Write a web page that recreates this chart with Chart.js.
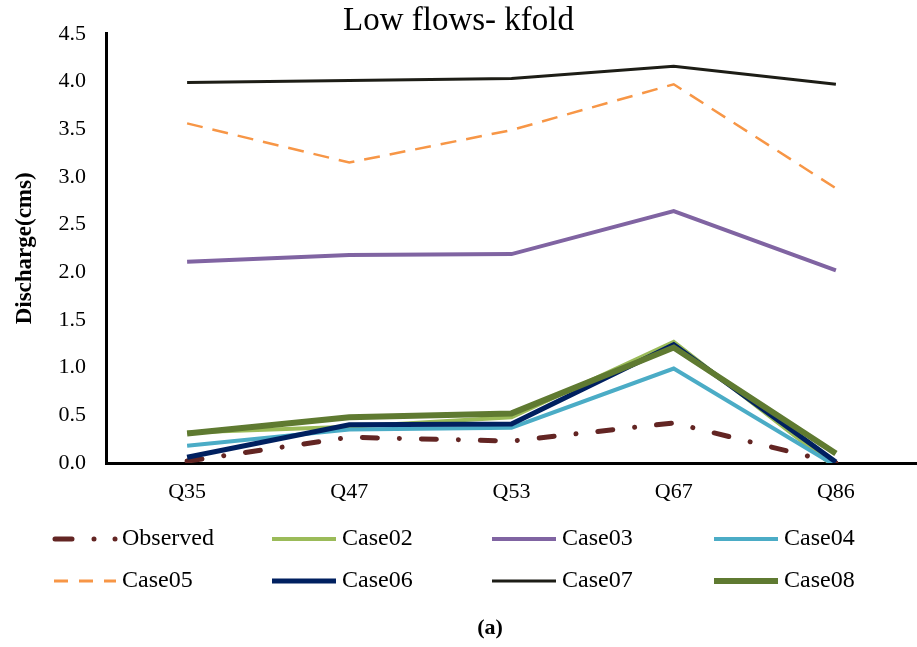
<!DOCTYPE html>
<html>
<head>
<meta charset="utf-8">
<script src="https://cdn.jsdelivr.net/npm/chart.js@4"></script>
<style>
    body { margin: 0; background: #fff; }
    #wrap { width: 917px; height: 647px; }
</style>
</head>
<body>
<div id="wrap"><canvas id="myChart" width="917" height="647"></canvas></div>
<script>
// Data
const categories = ['Q35', 'Q47', 'Q53', 'Q67', 'Q86'];
const observed = [0.02, 0.27, 0.23, 0.42, 0.00];
const case02 = [0.32, 0.38, 0.48, 1.27, -0.05];
const case03 = [2.11, 2.18, 2.19, 2.64, 2.02];
const case04 = [0.18, 0.35, 0.37, 0.99, -0.03];
const case05 = [3.56, 3.15, 3.49, 3.97, 2.88];
const case06 = [0.06, 0.40, 0.41, 1.24, 0.01];
const case07 = [3.99, 4.01, 4.03, 4.16, 3.97];
const case08 = [0.31, 0.48, 0.52, 1.21, 0.10];

const FONT = "'Liberation Serif', 'Times New Roman', serif";

// Build a line dataset
function makeSeries(label, data, color, width, dash, idx) {
    return {
        label: label,
        data: data,
        borderColor: color,
        backgroundColor: color,
        borderWidth: width,
        borderDash: dash || [],
        borderCapStyle: dash && dash.length === 4 ? 'round' : 'butt',
        pointRadius: 0,
        tension: 0,
        fill: false,
        clip: 0,
        order: 8 - idx
    };
}

const datasets = [
    makeSeries('Observed', observed, '#632523', 5, [15, 22, 0.01, 22], 0),
    makeSeries('Case02', case02, '#9BBB59', 4, null, 1),
    makeSeries('Case03', case03, '#8064A2', 4, null, 2),
    makeSeries('Case04', case04, '#4BACC6', 4, null, 3),
    makeSeries('Case05', case05, '#F79646', 2.5, [16, 10], 4),
    makeSeries('Case06', case06, '#002060', 5, null, 5),
    makeSeries('Case07', case07, '#1D1D16', 3, null, 6),
    makeSeries('Case08', case08, '#5F7A31', 6, null, 7)
];

// Legend in 4 columns + caption, drawn by hand
const legendPlugin = {
    id: 'gridLegend',
    afterDraw(chart) {
        const ctx = chart.ctx;
        const colX = [52, 272, 492, 714];
        const rowY = [539, 581];
        ctx.save();
        chart.data.datasets.forEach((ds, i) => {
            const x = colX[i % 4];
            const y = rowY[Math.floor(i / 4)];
            let x0 = x, x1 = x + 64, dash = ds.borderDash;
            if (i === 0) {
                // legend sample shows dash, dot, dot
                x0 = x + 3;
                x1 = x + 68;
                dash = [17, 22, 0.01, 21, 0.01, 60];
            } else if (i === 4) {
                dash = [14, 11];
                x0 = x + 2;
            }
            ctx.strokeStyle = ds.borderColor;
            ctx.lineWidth = i === 4 ? 3 : ds.borderWidth;
            ctx.lineCap = ds.borderCapStyle;
            ctx.setLineDash(dash);
            ctx.beginPath();
            ctx.moveTo(x0, y);
            ctx.lineTo(x1, y);
            ctx.stroke();
            ctx.setLineDash([]);
            ctx.fillStyle = '#000';
            ctx.font = '24px ' + FONT;
            ctx.textBaseline = 'middle';
            ctx.textAlign = 'left';
            ctx.fillText(ds.label, x + 70, y);
        });
        ctx.font = 'bold 22px ' + FONT;
        ctx.textAlign = 'center';
        ctx.fillText('(a)', 490, 628);
        ctx.restore();
    }
};

const ctx = document.getElementById('myChart').getContext('2d');
new Chart(ctx, {
    type: 'line',
    data: { labels: categories, datasets: datasets },
    plugins: [legendPlugin, {
        id: 'whiteBg',
        beforeDraw(chart) {
            const c = chart.ctx;
            c.save();
            c.fillStyle = '#fff';
            c.fillRect(0, 0, chart.width, chart.height);
            c.restore();
        }
    }],
    options: {
        responsive: false,
        animation: false,
        layout: { padding: { top: 0, right: 0, bottom: 0, left: 0 } },
        plugins: {
            legend: { display: false },
            tooltip: { enabled: false },
            title: {
                display: true,
                text: 'Low flows- kfold',
                color: '#000',
                font: { family: FONT, size: 33, weight: 'normal', lineHeight: 0.78 },
                padding: { top: 8, bottom: 0 }
            }
        },
        scales: {
            x: {
                offset: true,
                grid: { display: false, drawTicks: false },
                border: { display: true, color: '#000', width: 3 },
                ticks: { color: '#000', font: { family: FONT, size: 22 }, padding: 16 },
                afterFit: s => { s.height = 184; }
            },
            y: {
                min: 0,
                max: 4.5,
                grid: { display: false, drawTicks: false },
                border: { display: true, color: '#000', width: 3 },
                ticks: {
                    stepSize: 0.5,
                    color: '#000',
                    font: { family: FONT, size: 22 },
                    padding: 20,
                    callback: v => v.toFixed(1)
                },
                title: {
                    display: true,
                    text: 'Discharge(cms)',
                    color: '#000',
                    font: { family: FONT, size: 23, weight: 'bold' },
                    padding: { top: 11, bottom: 0 }
                },
                afterFit: s => { s.width = 106; }
            }
        }
    }
});
</script>
</body>
</html>
